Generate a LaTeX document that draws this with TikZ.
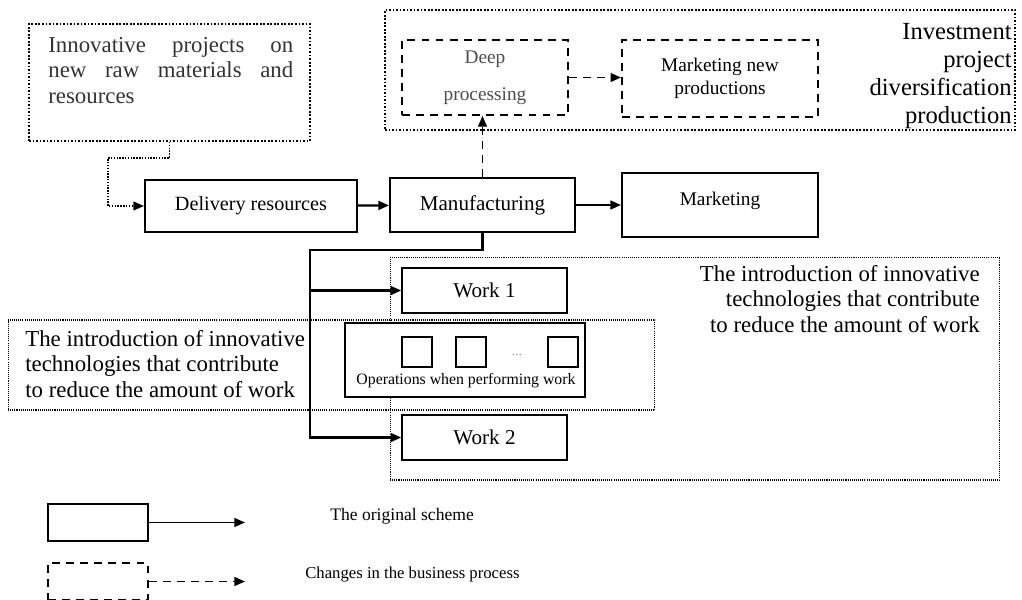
\documentclass[tikz,border=0pt]{standalone}
\usepackage{fontspec}
\setmainfont{Liberation Serif}
\usetikzlibrary{arrows.meta}
\usetikzlibrary{calc}
\usetikzlibrary{positioning}

\tikzset{
  mainbox/.style={rectangle,draw,line width=1.2pt,inner sep=2pt,font=\fontsize{12}{14}\selectfont},
  newbox/.style={rectangle,draw,line width=1.1pt,dash pattern=on 4.5pt off 3.5pt,inner sep=2pt,font=\fontsize{11}{13}\selectfont},
  bigdots/.style={rectangle,draw,line width=1.2pt,dash pattern=on 1pt off 1pt},
  smalldots/.style={rectangle,draw,line width=0.6pt,dash pattern=on 0.6pt off 0.6pt},
  opsq/.style={rectangle,draw,line width=0.8pt,minimum width=0.6cm,minimum height=0.6cm},
  flow/.style={line width=1.2pt,-{Triangle[length=6pt,width=5pt]}},
  newflow/.style={line width=1.1pt,dash pattern=on 4.5pt off 3.5pt,-{Triangle[length=6pt,width=5pt]}},
  dotflow/.style={line width=0.8pt,dash pattern=on 0.8pt off 0.8pt,-{Triangle[length=6pt,width=5pt]}},
  bigtext/.style={inner sep=0pt,font=\fontsize{13}{14.5}\selectfont}
}

\begin{document}
\begin{tikzpicture}[x=0.02cm,y=-0.02cm]
  \useasboundingbox (0,0) rectangle (1022,599);
  % dotted areas first
  \path
  (169.5,82.5) node(innov) [bigdots,minimum width=5.62cm,minimum height=2.34cm] {}
  (700,70) node(topbox) [bigdots,minimum width=12.6cm,minimum height=2.4cm] {}
  (695,368.5) node(rightbox) [smalldots,minimum width=12.2cm,minimum height=4.46cm] {}
  (331.5,365) node(leftbox) [smalldots,minimum width=12.94cm,minimum height=1.8cm] {};
  \path
  (48,37) node(innovtxt) [bigtext,anchor=north west,text width=4.9cm,align=justify,text=black!80] {Innovative projects on new raw materials and resources}
  (1012,23) node(investtxt) [inner sep=0pt,anchor=north east,align=right,font=\fontsize{14}{16}\selectfont] {Investment\\project\\diversification\\production}
  (980,265) node(righttxt) [bigtext,anchor=north east,align=right] {The introduction of innovative\\technologies that contribute\\to reduce the amount of work}
  (25,330) node(lefttxt) [bigtext,anchor=north west,align=left] {The introduction of innovative\\technologies that contribute\\to reduce the amount of work};
  % boxes
  \path
  (485,77.5) node(deep) [newbox,minimum width=3.32cm,minimum height=1.5cm,align=center,text=black!70] {Deep\\[8pt]processing}
  (720,78.5) node(mnew) [newbox,minimum width=3.92cm,minimum height=1.54cm,align=center] {Marketing new\\productions}
  (251,206) node(deliv) [mainbox,minimum width=4.24cm,minimum height=1.04cm,font=\fontsize{11.5}{13}\selectfont] {Delivery resources\hspace{0.25cm}}
  (482.5,205) node(manuf) [mainbox,minimum width=3.7cm,minimum height=1.08cm] {Manufacturing\hspace{0.45cm}}
  (720,205) node(market) [mainbox,minimum width=3.92cm,minimum height=1.28cm,font=\fontsize{11}{13}\selectfont] {\raisebox{7pt}{Marketing}}
  (484.5,290.5) node(work1) [mainbox,line width=0.9pt,minimum width=3.3cm,minimum height=0.9cm] {Work 1}
  (465,360) node(ops) [mainbox,line width=0.9pt,fill=white,minimum width=4.8cm,minimum height=1.48cm] {}
  (484.5,437.5) node(work2) [mainbox,line width=0.9pt,minimum width=3.3cm,minimum height=0.9cm] {Work 2};
  \path
  (417,352) node(op1) [opsq] {}
  (471,352) node(op2) [opsq] {}
  (563,352) node(op3) [opsq] {}
  (517,355) node(opdots) [inner sep=0pt,font=\fontsize{6}{7}\selectfont,text=black!60] {\dots}
  (466,381) node(opstxt) [inner sep=0pt,font=\fontsize{9}{11}\selectfont] {Operations when performing work};
  % legend
  \path
  (98,522.5) node(leg1) [mainbox,minimum width=2cm,minimum height=0.74cm] {}
  (98,581.5) node(leg2) [newbox,minimum width=2cm,minimum height=0.74cm] {}
  (330,516) node(leg1txt) [anchor=west,inner sep=0pt,font=\fontsize{10}{12}\selectfont] {The original scheme}
  (305,575) node(leg2txt) [anchor=west,inner sep=0pt,font=\fontsize{9.5}{12}\selectfont] {Changes in the business process};
  \coordinate (leg1end) at (245,522.5);
  \coordinate (leg2end) at (245,581.5);
  \coordinate (innovbend) at (108,206);
  \coordinate (jn) at (310,250);
  % connectors
  \draw[dotflow] (innov.south) -- ++(0,16) -| (innovbend) -- (deliv.west);
  \draw[flow] (deliv) -- (manuf);
  \draw[flow] (manuf) -- (market);
  \draw[newflow,line width=0.8pt] (manuf.north) -- (manuf.north |- deep.south);
  \draw[newflow] (deep.east) -- (deep.east -| mnew.west);
  \draw[flow] (manuf.south) |- (jn) |- (work2.west);
  \draw[flow] (jn |- work1.west) -- (work1.west);
  \draw[flow,line width=1.1pt] (leg1.east) -- (leg1end);
  \draw[newflow] (leg2.east) -- (leg2end);
\end{tikzpicture}
\end{document}
